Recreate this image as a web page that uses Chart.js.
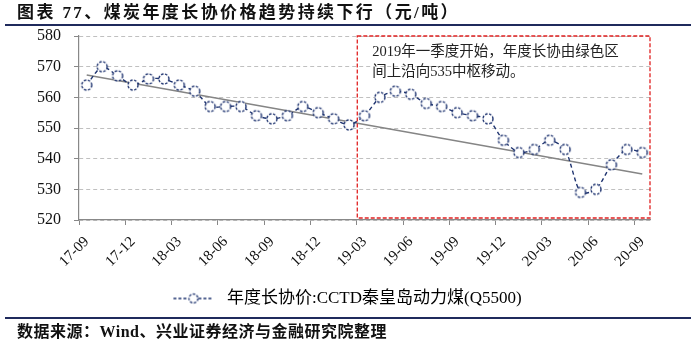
<!DOCTYPE html>
<html>
<head>
<meta charset="utf-8">
<script src="https://cdn.jsdelivr.net/npm/chart.js@4"></script>
<style>
  body { margin: 0; background: #fff; }
  #wrap { position: relative; width: 700px; height: 348px; font-family: "Liberation Serif", "Noto Sans CJK SC", serif; }
  #titulo { position: absolute; left: 17px; top: 4px; font-size: 17px; font-weight: bold; letter-spacing: 2.4px; line-height: 18px; color: #111; white-space: nowrap; }
  .raya { position: absolute; left: 5px; width: 686px; height: 2px; background: #1f2a5c; }
  #fuente { position: absolute; left: 17px; top: 323px; font-size: 16px; font-weight: bold; letter-spacing: 0.5px; line-height: 18px; color: #111; white-space: nowrap; }
  canvas { position: absolute; left: 0; top: 0; }
</style>
</head>
<body>
<div id="wrap">
  <canvas id="grafico" width="700" height="348"></canvas>
  <div id="titulo">图表 77、煤炭年度长协价格趋势持续下行（元/吨）</div>
  <div class="raya" style="top:24px"></div>
  <div class="raya" style="top:317px"></div>
  <div id="fuente">数据来源：Wind、兴业证券经济与金融研究院整理</div>
</div>
<script>
// meses 2017-09 .. 2020-09
const meses = [
  '17-09','17-10','17-11','17-12','18-01','18-02','18-03','18-04','18-05','18-06',
  '18-07','18-08','18-09','18-10','18-11','18-12','19-01','19-02','19-03','19-04',
  '19-05','19-06','19-07','19-08','19-09','19-10','19-11','19-12','20-01','20-02',
  '20-03','20-04','20-05','20-06','20-07','20-08','20-09'
];
// precio anual CCTD Q5500 (元/吨)
const precios = [
  564, 570, 567, 564, 566, 566, 564, 562, 557, 557,
  557, 554, 553, 554, 557, 555, 553, 551, 554, 560,
  562, 561, 558, 557, 555, 554, 553, 546, 542, 543,
  546, 543, 529, 530, 538, 543, 542
];
// tendencia (inicio y fin)
const tendenciaInicio = 567.3;
const tendenciaFin = 535;
const ticksY = [520, 530, 540, 550, 560, 570, 580];

const nota = ['2019年一季度开始，年度长协由绿色区', '间上沿向535中枢移动。'];
const azul = '#1f3470';

const tendencia = meses.map((_, i) => i === 0 ? tendenciaInicio : (i === meses.length - 1 ? tendenciaFin : null));

// marcador: circulo punteado
function marcador() {
  const c = document.createElement('canvas');
  c.width = 14; c.height = 14;
  const g = c.getContext('2d');
  g.beginPath();
  g.arc(7, 7, 5, 0, Math.PI * 2);
  g.fillStyle = '#fff';
  g.fill();
  g.setLineDash([2.5, 1.5]);
  g.lineWidth = 1.4;
  g.strokeStyle = azul;
  g.stroke();
  return c;
}

// marcador para la leyenda: ---o--- (con margen a la izquierda para centrar como el original)
function marcadorLeyenda() {
  const c = document.createElement('canvas');
  c.width = 90; c.height = 14;
  const g = c.getContext('2d');
  const x = 45;
  g.strokeStyle = azul;
  g.lineWidth = 1.3;
  g.setLineDash([3, 2]);
  g.beginPath();
  g.moveTo(x, 7); g.lineTo(x + 15, 7);
  g.moveTo(x + 25, 7); g.lineTo(x + 39, 7);
  g.stroke();
  g.setLineDash([2.5, 1.5]);
  g.beginPath();
  g.arc(x + 20, 7, 4.5, 0, Math.PI * 2);
  g.fillStyle = '#fff';
  g.fill();
  g.stroke();
  return c;
}

const imgPunto = marcador();
const imgLeyenda = marcadorLeyenda();

// recuadro rojo con la nota
const recuadro = {
  id: 'recuadro',
  afterDatasetsDraw(chart) {
    const { ctx, chartArea, scales } = chart;
    const x = scales.x, y = scales.y;
    const x0 = (x.getPixelForValue(17) + x.getPixelForValue(18)) / 2 + 0.5;
    const x1 = chartArea.right;
    const y0 = y.getPixelForValue(580);
    const y1 = y.getPixelForValue(520) - 2;
    ctx.save();
    ctx.strokeStyle = '#e02020';
    ctx.lineWidth = 1.3;
    ctx.setLineDash([4, 2]);
    ctx.strokeRect(x0, y0, x1 - x0, y1 - y0);
    ctx.setLineDash([]);
    ctx.fillStyle = '#222';
    ctx.font = '14.5px "Liberation Serif", "Noto Sans CJK SC"';
    ctx.textBaseline = 'middle';
    ctx.fillText(nota[0], x0 + 15, y0 + 16);
    ctx.fillText(nota[1], x0 + 15, y0 + 36);
    ctx.restore();
  }
};

const ctx = document.getElementById('grafico').getContext('2d');
const grafico = new Chart(ctx, {
  type: 'line',
  data: {
    labels: meses,
    datasets: [
      {
        label: '年度长协价:CCTD秦皇岛动力煤(Q5500)',
        data: precios,
        borderColor: azul,
        borderWidth: 1.4,
        borderDash: [4, 3],
        tension: 0.25,
        pointStyle: imgPunto,
        pointRadius: 5,
        order: 0
      },
      {
        label: 'tendencia',
        data: tendencia,
        borderColor: '#858585',
        borderWidth: 1.5,
        pointRadius: 0,
        spanGaps: true,
        order: 1
      }
    ]
  },
  options: {
    responsive: false,
    animation: false,
    layout: { padding: { top: 36, right: 50, bottom: 31, left: 0 } },
    plugins: {
      legend: {
        position: 'bottom',
        labels: {
          usePointStyle: true,
          pointStyleWidth: 90,
          color: '#111',
          font: { size: 17, family: '"Liberation Serif", "Noto Sans CJK SC"' },
          filter: item => item.datasetIndex === 0,
          generateLabels: chart => [{
            text: chart.data.datasets[0].label,
            pointStyle: imgLeyenda,
            fillStyle: '#fff',
            strokeStyle: azul,
            lineWidth: 0,
            datasetIndex: 0,
            hidden: false
          }]
        }
      },
      tooltip: { enabled: false }
    },
    scales: {
      x: {
        offset: true,
        afterFit: s => { s.height = 60; },
        grid: {
          offset: true,
          drawOnChartArea: false,
          tickLength: 5,
          tickColor: c => c.index % 3 === 0 ? '#888' : 'rgba(0,0,0,0)'
        },
        border: { display: true, color: '#888', width: 1.2 },
        ticks: {
          autoSkip: false,
          minRotation: 45,
          maxRotation: 45,
          padding: 8,
          color: '#111',
          font: { size: 15, family: '"Liberation Serif"' },
          callback: (v, i) => i % 3 === 0 ? meses[i] : ''
        }
      },
      y: {
        min: 520,
        max: 580,
        afterFit: s => { s.width = 79; },
        afterBuildTicks: s => { s.ticks = ticksY.map(v => ({ value: v })); },
        grid: { color: '#c0c0c0', tickLength: 5, tickColor: '#888' },
        border: { display: true, color: '#888', width: 1.2, dash: [4, 3] },
        ticks: {
          padding: 13,
          color: '#111',
          font: { size: 16, family: '"Liberation Serif"' }
        }
      }
    }
  },
  plugins: [recuadro]
});
</script>
</body>
</html>
